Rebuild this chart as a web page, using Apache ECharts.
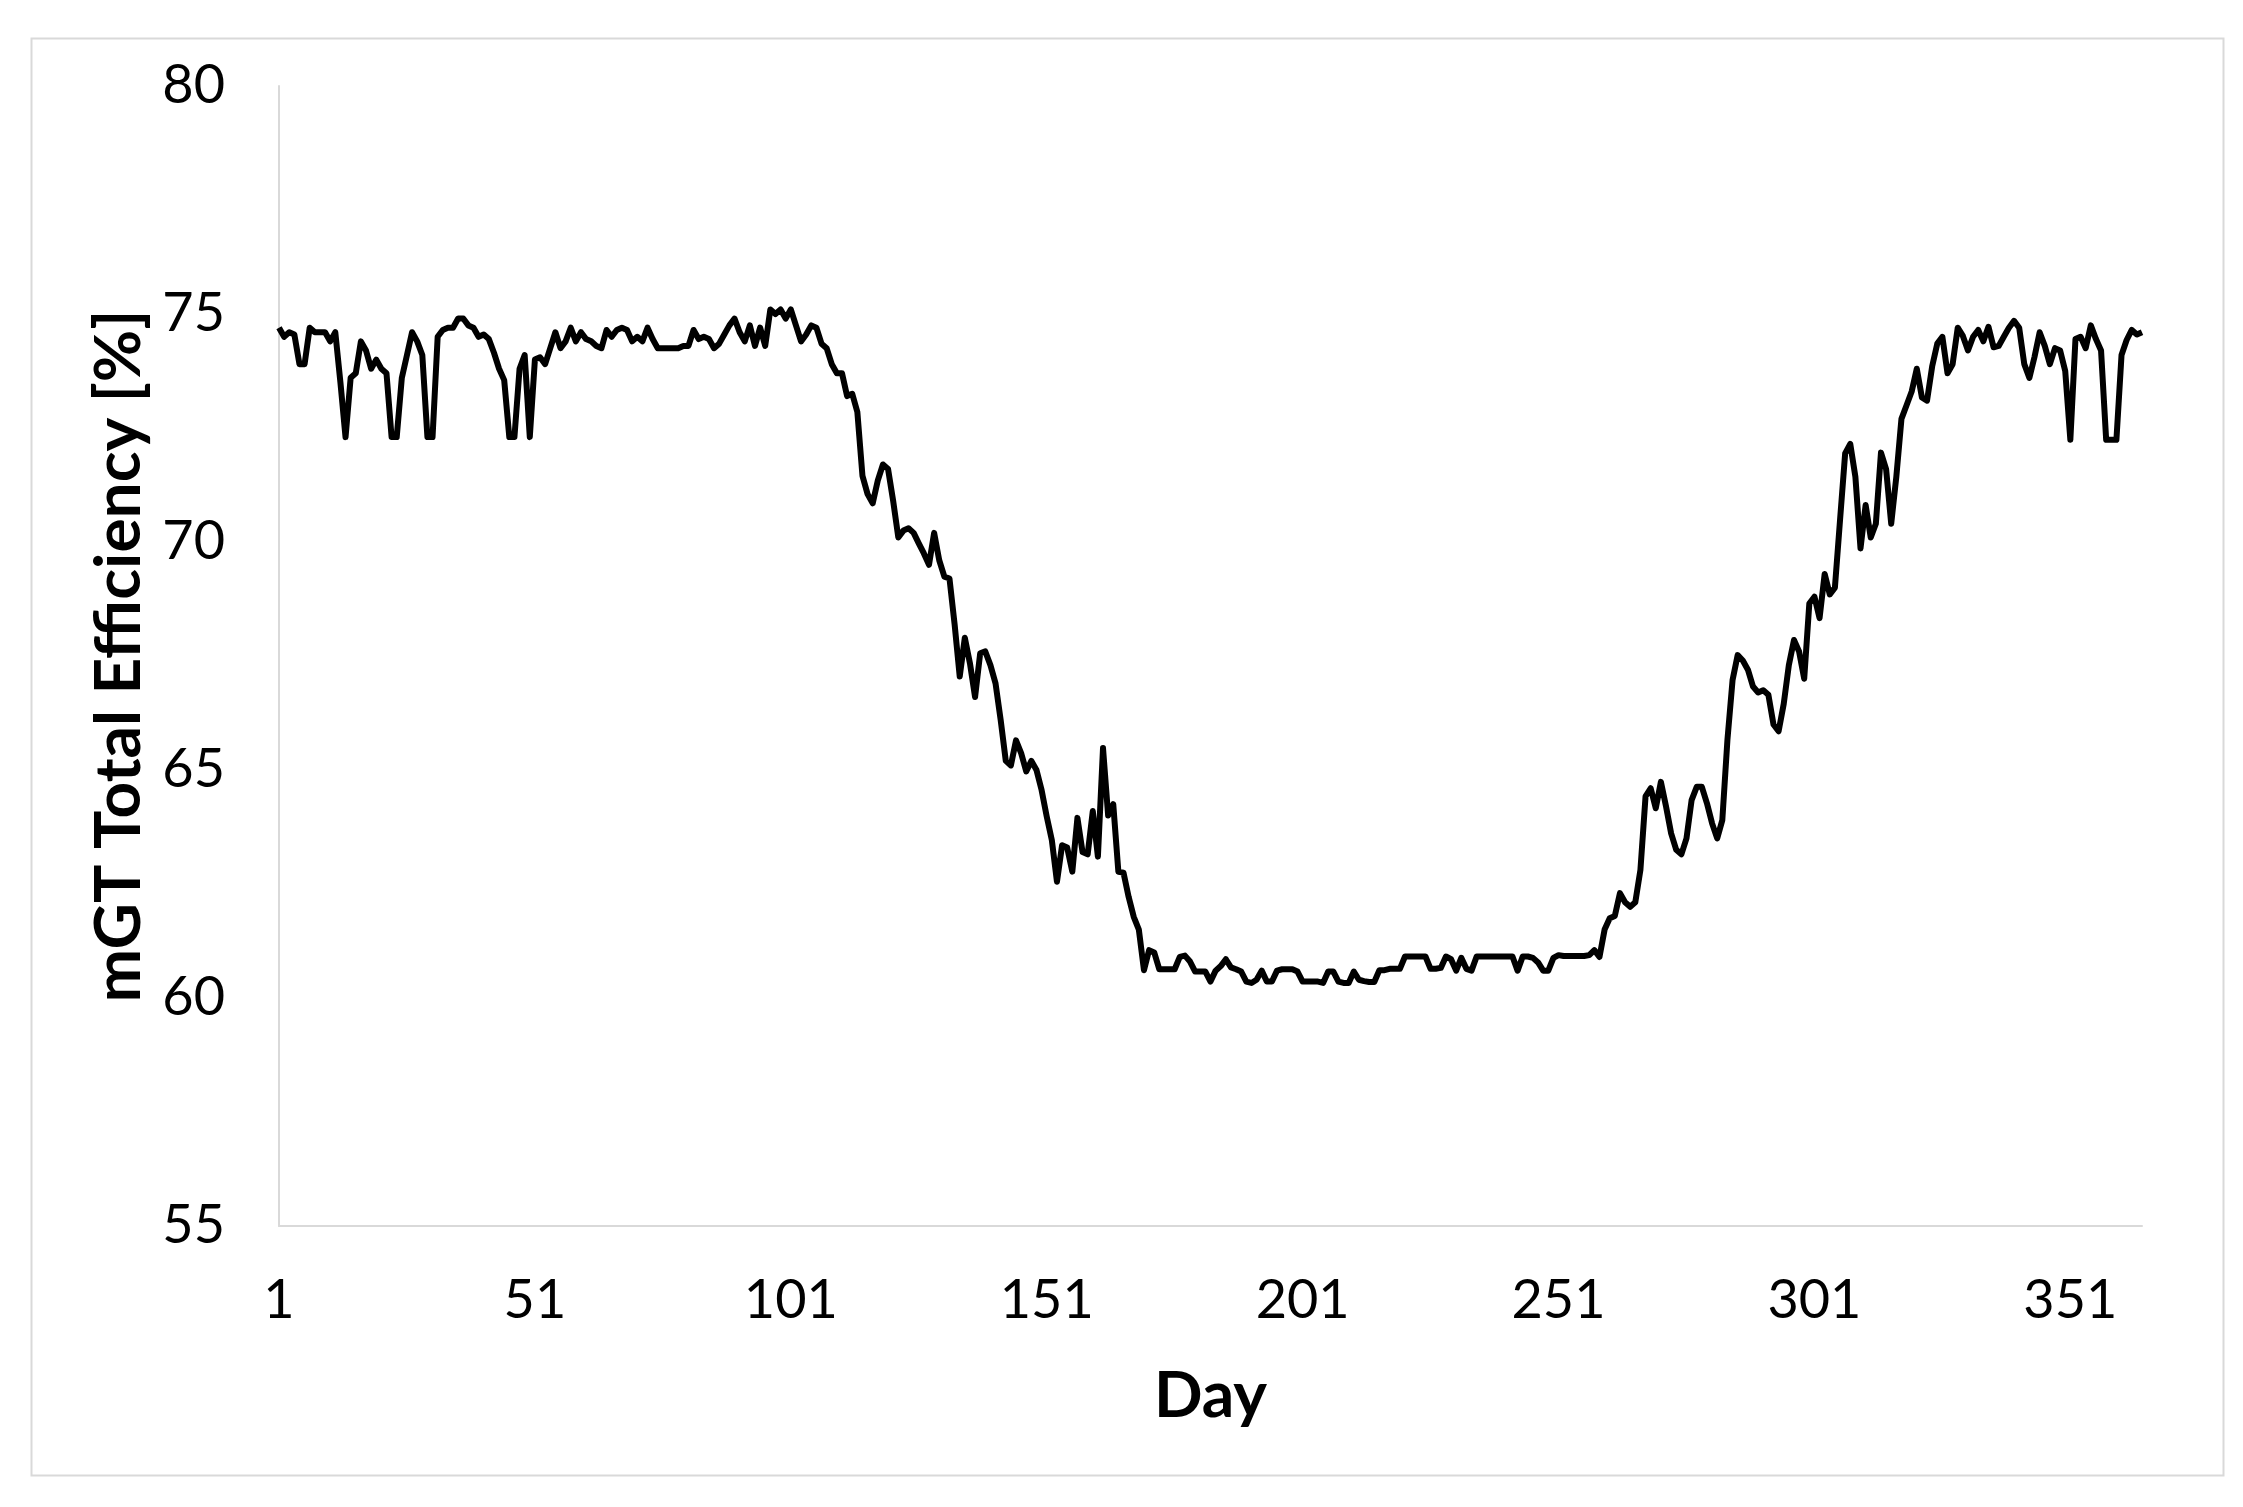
<!DOCTYPE html>
<html>
<head>
<meta charset="utf-8">
<title>mGT Total Efficiency</title>
<script src="https://cdn.jsdelivr.net/npm/echarts@6/dist/echarts.min.js"></script>
<style>
  html, body { margin: 0; padding: 0; background: #fff; }
  #main { width: 2243px; height: 1507px; }
</style>
</head>
<body>
<div id="main"></div>
<script>
// efficiency per day (50 days per row group)
var effDays1to50 = [
  74.7, 74.5, 74.6, 74.55, 73.9, 73.9, 74.7, 74.6, 74.6, 74.6,
  74.4, 74.6, 73.5, 72.3, 73.6, 73.7, 74.4, 74.2, 73.8, 74.0,
  73.8, 73.7, 72.3, 72.3, 73.6, 74.1, 74.6, 74.4, 74.1, 72.3,
  72.3, 74.5, 74.65, 74.7, 74.7, 74.9, 74.9, 74.75, 74.7, 74.5,
  74.55, 74.45, 74.15, 73.8, 73.55, 72.3, 72.3, 73.8, 74.1, 72.3
];
var effDays51to100 = [
  74.0, 74.05, 73.9, 74.25, 74.6, 74.25, 74.4, 74.7, 74.4, 74.6,
  74.45, 74.4, 74.3, 74.25, 74.65, 74.5, 74.65, 74.7, 74.65, 74.4,
  74.5, 74.4, 74.7, 74.45, 74.25, 74.25, 74.25, 74.25, 74.25, 74.3,
  74.3, 74.65, 74.45, 74.5, 74.45, 74.25, 74.35, 74.55, 74.75, 74.9,
  74.6, 74.4, 74.75, 74.3, 74.7, 74.3, 75.1, 75.0, 75.1, 74.9
];
var effDays101to150 = [
  75.1, 74.75, 74.4, 74.55, 74.75, 74.7, 74.35, 74.25, 73.9, 73.7,
  73.7, 73.2, 73.25, 72.85, 71.45, 71.05, 70.85, 71.35, 71.7, 71.6,
  70.9, 70.1, 70.25, 70.3, 70.2, 69.97, 69.75, 69.5, 70.2, 69.6,
  69.24, 69.2, 68.2, 67.05, 67.9, 67.34, 66.6, 67.56, 67.6, 67.3,
  66.9, 66.1, 65.2, 65.1, 65.65, 65.37, 64.97, 65.2, 65.0, 64.56
];
var effDays151to200 = [
  63.98, 63.46, 62.55, 63.35, 63.3, 62.77, 63.95, 63.2, 63.15, 64.1,
  63.1, 65.48, 64.0, 64.25, 62.77, 62.75, 62.22, 61.78, 61.5, 60.61,
  61.05, 61.0, 60.63, 60.63, 60.63, 60.63, 60.9, 60.93, 60.8, 60.58,
  60.58, 60.58, 60.36, 60.6, 60.7, 60.85, 60.67, 60.63, 60.58, 60.36,
  60.33, 60.4, 60.6, 60.36, 60.36, 60.6, 60.63, 60.63, 60.63, 60.58
];
var effDays201to250 = [
  60.36, 60.36, 60.36, 60.36, 60.33, 60.58, 60.58, 60.36, 60.33, 60.33,
  60.58, 60.4, 60.37, 60.35, 60.35, 60.61, 60.61, 60.64, 60.64, 60.64,
  60.91, 60.91, 60.91, 60.91, 60.91, 60.64, 60.64, 60.66, 60.91, 60.85,
  60.6, 60.88, 60.64, 60.6, 60.91, 60.91, 60.91, 60.91, 60.91, 60.91,
  60.91, 60.91, 60.6, 60.91, 60.91, 60.88, 60.78, 60.6, 60.6, 60.88
];
var effDays251to300 = [
  60.94, 60.92, 60.92, 60.92, 60.92, 60.92, 60.94, 61.05, 60.9, 61.5,
  61.75, 61.8, 62.3, 62.1, 62.0, 62.1, 62.81, 64.42, 64.6, 64.16,
  64.74, 64.2, 63.61, 63.25, 63.15, 63.5, 64.34, 64.63, 64.63, 64.27,
  63.83, 63.5, 63.9, 65.66, 66.97, 67.52, 67.4, 67.2, 66.83, 66.7,
  66.75, 66.65, 66.0, 65.85, 66.45, 67.3, 67.85, 67.6, 67.0, 68.65
];
var effDays301to365 = [
  68.8, 68.33, 69.3, 68.85, 69.0, 70.48, 71.94, 72.15, 71.43, 69.86,
  70.81, 70.1, 70.4, 71.96, 71.6, 70.4, 71.43, 72.7, 73.0, 73.3,
  73.8, 73.17, 73.1, 73.85, 74.35, 74.5, 73.7, 73.9, 74.7, 74.52,
  74.2, 74.5, 74.65, 74.4, 74.72, 74.27, 74.3, 74.5, 74.7, 74.85,
  74.7, 73.9, 73.6, 74.06, 74.6, 74.3, 73.9, 74.25, 74.2, 73.75,
  72.24, 74.45, 74.5, 74.25, 74.75, 74.45, 74.2, 72.24, 72.24, 72.24,
  74.1, 74.43, 74.65, 74.55, 74.6
];

var efficiency = [].concat(effDays1to50, effDays51to100, effDays101to150,
  effDays151to200, effDays201to250, effDays251to300, effDays301to365);

var days = [];
for (var i = 1; i <= efficiency.length; i++) days.push(String(i));

var yTicks = { min: 55, max: 80, step: 5 };

var font = 'Lato, "Open Sans", sans-serif';
var grey = '#d9d9d9';

var myChart = echarts.init(document.getElementById('main'));
var option = {
  animation: false,
  backgroundColor: '#fff',
  graphic: [{
    type: 'rect',
    left: 29, top: 36,
    shape: { width: 2192, height: 1437 },
    style: { fill: 'none', stroke: grey, lineWidth: 2 },
    silent: true
  }],
  grid: { left: 279, right: 101, top: 86, bottom: 281 },
  xAxis: {
    type: 'category',
    data: days,
    boundaryGap: false,
    name: 'Day',
    nameLocation: 'middle',
    nameGap: 138,
    nameTextStyle: { fontFamily: font, fontSize: 64, fontWeight: 'bold', color: '#000' },
    axisLine: { lineStyle: { color: grey, width: 2 } },
    axisTick: { show: false },
    axisLabel: {
      interval: function (index) { return index % 50 === 0; },
      margin: 48,
      fontFamily: font, fontSize: 54, color: '#000'
    },
    splitLine: { show: false }
  },
  yAxis: {
    type: 'value',
    min: yTicks.min,
    max: yTicks.max,
    interval: yTicks.step,
    name: 'mGT Total Efficiency [%]',
    nameLocation: 'middle',
    nameGap: 128,
    nameTextStyle: { fontFamily: font, fontSize: 64, fontWeight: 'bold', color: '#000' },
    axisLine: { show: true, lineStyle: { color: grey, width: 2 } },
    axisTick: { show: false },
    axisLabel: { margin: 54, fontFamily: font, fontSize: 54, color: '#000' },
    splitLine: { show: false }
  },
  series: [{
    type: 'line',
    data: efficiency,
    showSymbol: false,
    lineStyle: { color: '#000', width: 6, join: 'round' },
    itemStyle: { color: '#000' }
  }]
};
myChart.setOption(option);
</script>
</body>
</html>
